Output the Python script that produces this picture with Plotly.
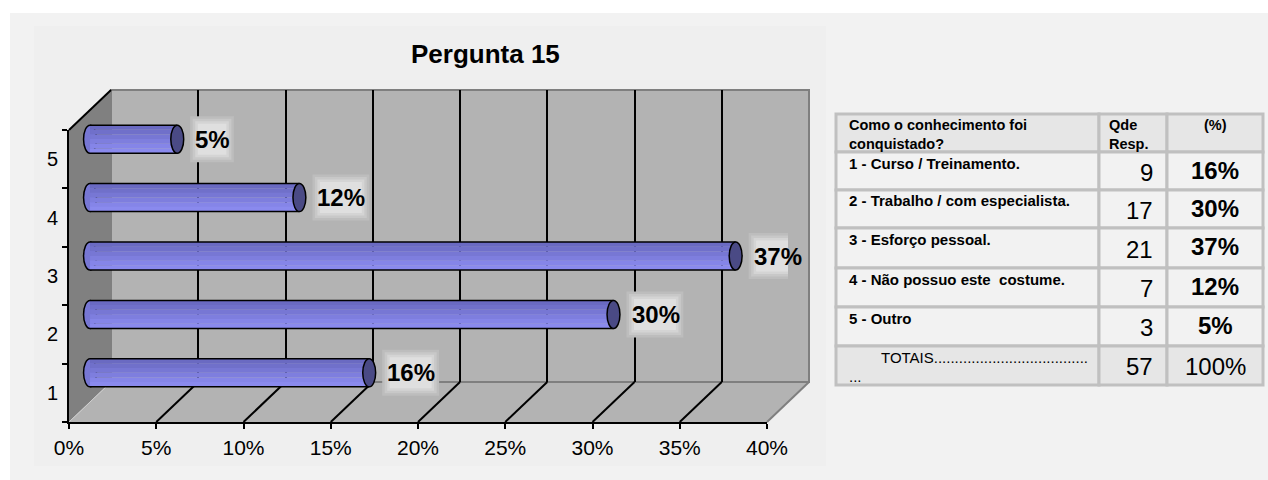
import plotly.graph_objects as go

W, H = 1268, 480

# ---- data ----
categories = [1, 2, 3, 4, 5]
answers = [
    "1 - Curso / Treinamento.",
    "2 - Trabalho / com especialista.",
    "3 - Esforço pessoal.",
    "4 - Não possuo este  costume.",
    "5 - Outro",
]
responses = [9, 17, 21, 7, 3]
percent = [16, 30, 37, 12, 5]
total_responses = 57
total_percent = 100
x_ticks = [0, 5, 10, 15, 20, 25, 30, 35, 40]
x_tick_labels = ["0%", "5%", "10%", "15%", "20%", "25%", "30%", "35%", "40%"]
title_text = "Pergunta 15"
table_header = ["Como o conhecimento foi<br>conquistado?", "Qde<br>Resp.", "(%)"]
totals_label = ["TOTAIS.....................................", "..."]

FONT = "Arial, Liberation Sans, sans-serif"

# ---- 3D frame geometry (pixels) ----
FX0, FX1 = 69, 767      # front plane, left/right
FY0, FY1 = 130, 422     # front plane, top/bottom
DX, DY = 42, 40         # depth offset towards the back wall
X_MAX = 40
PX_PER_UNIT = (FX1 - FX0) / X_MAX
X_PAD = 1.5             # room left of zero for the rounded cylinder ends


def px(x):
    return x / W


def py(y):
    return 1 - y / H


def front_x(v):
    return FX0 + PX_PER_UNIT * v


fig = go.Figure()

# empty traces so the wall and front axes subplots get drawn
fig.add_trace(go.Scatter(x=[None], y=[None], xaxis="x", yaxis="y", showlegend=False, hoverinfo="skip"))
fig.add_trace(go.Scatter(x=[None], y=[None], xaxis="x2", yaxis="y2", showlegend=False, hoverinfo="skip"))

# cylinder body drawn as stacked stripes (top -> bottom)
BAR_H = 0.48
stripe_colors = ["#6a6ac2", "#7070ca", "#7777d4", "#7e7ede", "#8585e8", "#8a8aee"]
n = len(stripe_colors)
sh = BAR_H / n
for i, col in enumerate(stripe_colors):
    fig.add_trace(go.Bar(
        x=percent, y=categories, orientation="h",
        width=sh * 1.02, offset=BAR_H / 2 - (i + 1) * sh,
        marker=dict(color=col, line=dict(width=0)),
        xaxis="x3", yaxis="y3", showlegend=False, hoverinfo="skip",
    ))

shapes = []
# outer panel and chart area
shapes.append(dict(type="rect", xref="paper", yref="paper", x0=px(10), x1=1, y0=0, y1=py(13),
                   fillcolor="#f2f2f2", line=dict(width=0), layer="below"))
shapes.append(dict(type="rect", xref="paper", yref="paper", x0=px(34), x1=px(826), y0=py(466), y1=py(26),
                   fillcolor="#efefef", line=dict(width=0), layer="below"))

# left wall
shapes.append(dict(type="path", xref="paper", yref="paper",
                   path=f"M{px(FX0)},{py(FY0)} L{px(FX0+DX)},{py(FY0-DY)} L{px(FX0+DX)},{py(FY1-DY)} L{px(FX0)},{py(FY1)} Z",
                   fillcolor="#808080", line=dict(width=0), layer="below"))
# floor
shapes.append(dict(type="path", xref="paper", yref="paper",
                   path=f"M{px(FX0)},{py(FY1)} L{px(FX1)},{py(FY1)} L{px(FX1+DX)},{py(FY1-DY)} L{px(FX0+DX)},{py(FY1-DY)} Z",
                   fillcolor="#b3b3b3", line=dict(width=0), layer="below"))
# back wall
shapes.append(dict(type="rect", xref="paper", yref="paper",
                   x0=px(FX0 + DX), x1=px(FX1 + DX), y0=py(FY1 - DY), y1=py(FY0 - DY),
                   fillcolor="#b3b3b3", line=dict(color="#7f7f7f", width=2), layer="below"))
# floor depth lines at every tick
for v in x_ticks:
    if v == 0:
        col, w = "#d0d0d0", 1
    elif v == X_MAX:
        col, w = "#7f7f7f", 2
    else:
        col, w = "black", 2
    shapes.append(dict(type="line", xref="paper", yref="paper",
                       x0=px(front_x(v)), y0=py(FY1), x1=px(front_x(v) + DX), y1=py(FY1 - DY),
                       line=dict(color=col, width=w), layer="below"))
# top edge of the left wall
shapes.append(dict(type="line", xref="paper", yref="paper",
                   x0=px(FX0), y0=py(FY0), x1=px(FX0 + DX), y1=py(FY0 - DY),
                   line=dict(color="black", width=2), layer="below"))

# cylinder ends and outlines
RX = 0.37
RY = BAR_H / 2
for v, c in zip(percent, categories):
    shapes.append(dict(type="circle", xref="x3", yref="y3",
                       x0=-RX, x1=RX, y0=c - RY, y1=c + RY,
                       fillcolor="#7777d4", line=dict(color="black", width=1.5), layer="between"))
    for yy in (c - RY, c + RY):
        shapes.append(dict(type="line", xref="x3", yref="y3", x0=0, x1=v, y0=yy, y1=yy,
                           line=dict(color="black", width=1.5), layer="above"))
    shapes.append(dict(type="circle", xref="x3", yref="y3",
                       x0=v - RX, x1=v + RX, y0=c - RY, y1=c + RY,
                       fillcolor="#4a4a85", line=dict(color="black", width=1.5), layer="above"))

# value labels with a soft light backdrop
glow = [("#bdbdbd", 0), ("#c8c8c8", 2.5), ("#d4d4d4", 5), ("#dfdfdf", 7.5)]
annotations = []
for v, c in zip(percent, categories):
    label = f"{v}%"
    tw = sum(21.3 if ch == "%" else 13.3 for ch in label)
    gx0 = 13
    gx1 = gx0 + tw + 9
    for colr, inset in glow:
        shapes.append(dict(type="rect", xref="x3", yref="y3",
                           xsizemode="pixel", xanchor=v, x0=gx0 + inset, x1=gx1 - inset,
                           ysizemode="pixel", yanchor=c, y0=-23 + inset, y1=23 - inset,
                           fillcolor=colr, line=dict(width=0), layer="above"))
    annotations.append(dict(xref="x3", yref="y3", x=v, y=c, text=f"<b>{label}</b>",
                            showarrow=False, xanchor="left", yanchor="middle", xshift=gx0 + 3,
                            font=dict(family=FONT, size=24, color="black")))

annotations.append(dict(xref="paper", yref="paper", x=px(485), y=py(54), text=f"<b>{title_text}</b>",
                        showarrow=False, xanchor="center", yanchor="middle",
                        font=dict(family=FONT, size=26, color="black")))

# ---- summary table (grid of cells built from the data lists) ----
col_edges = [836, 1099, 1167, 1263]
row_edges = [114, 152, 190, 228, 268, 307, 346, 385]
GRID = "#c0c0c0"
HEAD_FILL = "#e6e6e6"
BODY_FILL = "#f2f2f2"

n_rows = len(row_edges) - 1
for r in range(n_rows):
    fill = HEAD_FILL if r in (0, n_rows - 1) else BODY_FILL
    for cidx in range(3):
        shapes.append(dict(type="rect", xref="paper", yref="paper",
                           x0=px(col_edges[cidx]), x1=px(col_edges[cidx + 1]),
                           y0=py(row_edges[r + 1]), y1=py(row_edges[r]),
                           fillcolor=fill, line=dict(color=GRID, width=3), layer="below"))


def cell_text(text, x, y, size, anchor="left", bold=False, yanchor="middle"):
    annotations.append(dict(xref="paper", yref="paper", x=px(x), y=py(y),
                            text=f"<b>{text}</b>" if bold else text, showarrow=False,
                            xanchor=anchor, yanchor=yanchor, align=anchor,
                            font=dict(family=FONT, size=size, color="black")))


SMALL, BIG = 15, 24
# header
hdr_x = [(col_edges[0] + 11, "left"), (col_edges[1] + 8, "left"),
         ((col_edges[2] + col_edges[3]) / 2, "center")]
for text, (hx, anc) in zip(table_header, hdr_x):
    cell_text(text, hx, row_edges[0] + 1, 14.5, anc, bold=True, yanchor="top")

# answer rows
for r, (a, cnt, p) in enumerate(zip(answers, responses, percent), start=1):
    top, bot = row_edges[r], row_edges[r + 1]
    mid = (top + bot) / 2
    cell_text(a, col_edges[0] + 11, top + 11, SMALL, "left", bold=True)
    cell_text(str(cnt), col_edges[2] - 12, mid + 1, BIG, "right")
    cell_text(f"{p}%", (col_edges[2] + col_edges[3]) / 2, mid - 1, BIG, "center", bold=True)

# totals row
top, bot = row_edges[-2], row_edges[-1]
mid = (top + bot) / 2
cell_text(totals_label[0], col_edges[0] + 43, top + 11, SMALL, "left")
cell_text(totals_label[1], col_edges[0] + 11, top + 30, SMALL, "left")
cell_text(str(total_responses), col_edges[2] - 12, mid + 1, BIG, "right")
cell_text(f"{total_percent}%", (col_edges[2] + col_edges[3]) / 2, mid + 1, BIG, "center")

axis_common = dict(range=[0, X_MAX], fixedrange=True, zeroline=False)
cat_common = dict(range=[0.5, 5.5], fixedrange=True, zeroline=False)

fig.update_layout(
    width=W, height=H, autosize=False,
    margin=dict(l=0, r=0, t=0, b=0, pad=0, autoexpand=False),
    paper_bgcolor="white", plot_bgcolor="rgba(0,0,0,0)",
    barmode="overlay", showlegend=False,
    font=dict(family=FONT, color="black"),
    # back wall with vertical gridlines
    xaxis=dict(domain=[px(FX0 + DX), px(FX1 + DX)], anchor="y", tickvals=x_ticks[1:-1],
               showticklabels=False, ticks="", showgrid=True, gridcolor="black", gridwidth=2,
               showline=False, automargin=False, **axis_common),
    yaxis=dict(domain=[py(FY1 - DY), py(FY0 - DY)], anchor="x", visible=False, automargin=False,
               **cat_common),
    # front axes carrying tick marks and labels
    xaxis2=dict(domain=[px(FX0), px(FX1)], anchor="y2", tickvals=x_ticks, ticktext=x_tick_labels,
                ticks="outside", ticklen=5, tickwidth=2, tickcolor="black",
                showline=True, linecolor="black", linewidth=2, showgrid=False,
                tickfont=dict(family=FONT, size=21, color="black"), ticklabelstandoff=1,
                automargin=False, **axis_common),
    yaxis2=dict(domain=[py(FY1), py(FY0)], anchor="x2", tickvals=categories,
                ticktext=[str(c) for c in categories], ticks="",
                minor=dict(tickvals=[c - 0.5 for c in categories] + [categories[-1] + 0.5],
                           ticks="outside", ticklen=5, tickwidth=2, tickcolor="black"),
                showline=True, linecolor="black", linewidth=2, showgrid=False,
                tickfont=dict(family=FONT, size=20, color="black"), ticklabelstandoff=5,
                automargin=False, **cat_common),
    # mid-depth plane holding the cylinders
    xaxis3=dict(domain=[px(FX0 + DX / 2 - X_PAD * PX_PER_UNIT), px(FX1 + DX / 2)], anchor="y3",
                visible=False, range=[-X_PAD, X_MAX], fixedrange=True, zeroline=False, automargin=False),
    yaxis3=dict(domain=[py(FY1 - DY / 2), py(FY0 - DY / 2)], anchor="x3", visible=False,
                automargin=False, **cat_common),
    shapes=shapes,
    annotations=annotations,
)

fig.write_html("out.html")
